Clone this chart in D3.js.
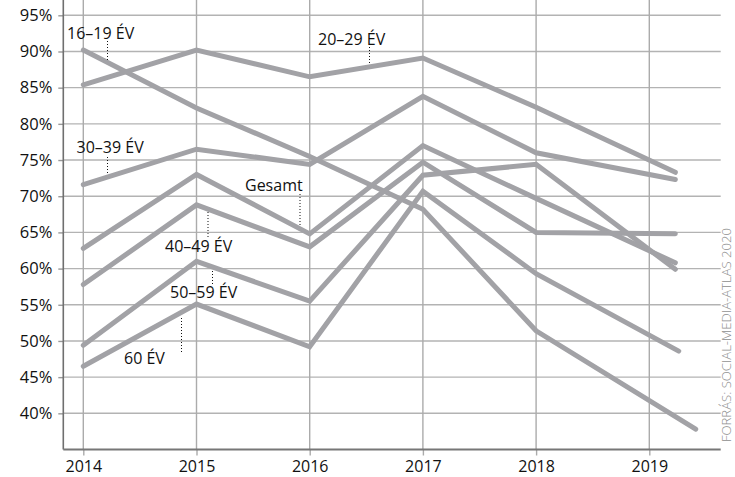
<!DOCTYPE html>
<html>
<head>
<meta charset="utf-8">
<script src="https://cdn.jsdelivr.net/npm/d3@7/dist/d3.min.js"></script>
<style>
  html, body { margin: 0; padding: 0; background: #fff; }
  svg { display: block; font-family: "Open Sans", "Noto Sans", sans-serif; }
</style>
</head>
<body>
<svg id="chart" width="735" height="477"></svg>
<script>
// Share of each age group (and overall) by survey year, in percent
const years = [2014, 2015, 2016, 2017, 2018];
const seriesNames = ["16–19 ÉV", "20–29 ÉV", "30–39 ÉV", "Gesamt", "40–49 ÉV", "50–59 ÉV", "60 ÉV"];
// Each series runs a little past 2019 on its last point
const endYears = [2019.41, 2019.23, 2019.23, 2019.23, 2019.23, 2019.23, 2019.26];
const v16_19 = [90.2, 82.2, 75.5, 68.2, 51.4, 37.8];
const v20_29 = [85.4, 90.2, 86.5, 89.1, 82.3, 73.3];
const v30_39 = [71.6, 76.5, 74.4, 83.8, 76.0, 72.3];
const vGesamt = [62.8, 73.0, 64.8, 77.0, 69.7, 60.8];
const v40_49 = [57.8, 68.8, 63.0, 74.7, 65.0, 64.8];
const v50_59 = [49.4, 61.0, 55.5, 72.9, 74.4, 59.9];
const v60 = [46.5, 55.1, 49.2, 70.7, 59.3, 48.6];
const seriesValues = [v16_19, v20_29, v30_39, vGesamt, v40_49, v50_59, v60];

const yTicks = [40, 45, 50, 55, 60, 65, 70, 75, 80, 85, 90, 95];
const xTicks = [2014, 2015, 2016, 2017, 2018, 2019];
const sourceNote = "FORRÁS: SOCIAL-MEDIA-ATLAS 2020";

const svg = d3.select("#chart");

const plotLeft = 63.3, plotRight = 720.7, plotTop = 0, plotBottom = 449.5;

const x = d3.scaleLinear().domain([2014, 2019]).range([83.3, 649.3]);
const y = d3.scaleLinear().domain([35, 95]).range([449.5, 15.3]);

// horizontal grid
svg.append("g").selectAll("line")
  .data(yTicks).join("line")
  .attr("x1", plotLeft).attr("x2", plotRight)
  .attr("y1", d => y(d)).attr("y2", d => y(d))
  .attr("stroke", "#b3b3b3").attr("stroke-width", 1.4);

// vertical grid
svg.append("g").selectAll("line")
  .data(xTicks).join("line")
  .attr("x1", d => x(d)).attr("x2", d => x(d))
  .attr("y1", plotTop).attr("y2", plotBottom)
  .attr("stroke", "#ababab").attr("stroke-width", 1.4);

// y axis
const yAxis = svg.append("g")
  .attr("transform", `translate(${plotLeft},0)`)
  .call(d3.axisLeft(y).tickValues(yTicks).tickFormat(d => d + "%").tickSize(5).tickPadding(6).tickSizeOuter(0));
yAxis.select(".domain").remove();
yAxis.selectAll(".tick line").attr("stroke", "#999").attr("stroke-width", 1.4);
yAxis.selectAll("text").attr("fill", "#111").style("font-size", "16.5px")
  .style("font-family", "\"Open Sans\", sans-serif");
svg.append("line")
  .attr("x1", plotLeft).attr("x2", plotLeft).attr("y1", plotTop).attr("y2", plotBottom)
  .attr("stroke", "#6f6f6f").attr("stroke-width", 1.6);

// x axis
const xAxis = svg.append("g")
  .attr("transform", `translate(0,${plotBottom})`)
  .call(d3.axisBottom(x).tickValues(xTicks).tickFormat(d3.format("d")).tickSize(6).tickPadding(5).tickSizeOuter(0));
xAxis.select(".domain").remove();
xAxis.selectAll(".tick line").attr("stroke", "#ababab").attr("stroke-width", 1.4);
xAxis.selectAll("text").attr("fill", "#111").style("font-size", "16px")
  .style("font-family", "\"Open Sans\", sans-serif");
svg.append("line")
  .attr("x1", plotLeft).attr("x2", plotRight).attr("y1", plotBottom).attr("y2", plotBottom)
  .attr("stroke", "#777").attr("stroke-width", 1.8);

// series lines
const series = seriesNames.map((name, i) => ({
  name,
  points: seriesValues[i].map((v, j) => ({ year: j < years.length ? years[j] : endYears[i], value: v }))
}));

const line = d3.line().x(d => x(d.year)).y(d => y(d.value));

svg.append("g").selectAll("path")
  .data(series).join("path")
  .attr("d", d => line(d.points))
  .attr("fill", "none")
  .attr("stroke", "#a2a2a6")
  .attr("stroke-width", 5)
  .attr("stroke-linecap", "round")
  .attr("stroke-linejoin", "miter");

// series labels with dotted leaders
const labels = [
  { name: "16–19 ÉV", tx: 67, ty: 38.5, lx: 107.5, ly1: 41, ly2: 60 },
  { name: "20–29 ÉV", tx: 318, ty: 45, lx: 369.5, ly1: 47, ly2: 64 },
  { name: "30–39 ÉV", tx: 76.5, ty: 152.7, lx: 107.5, ly1: 157, ly2: 175 },
  { name: "Gesamt", tx: 245, ty: 190.7, lx: 300, ly1: 194, ly2: 225 },
  { name: "40–49 ÉV", tx: 165, ty: 251.7, lx: 208, ly1: 212, ly2: 237 },
  { name: "50–59 ÉV", tx: 170, ty: 298.3, lx: 212.5, ly1: 271, ly2: 284 },
  { name: "60 ÉV", tx: 124, ty: 364.3, lx: 181.5, ly1: 318, ly2: 352 }
];

const ann = svg.append("g");
ann.selectAll("line")
  .data(labels).join("line")
  .attr("x1", d => d.lx).attr("x2", d => d.lx)
  .attr("y1", d => d.ly1).attr("y2", d => d.ly2)
  .attr("stroke", "#111").attr("stroke-width", 1)
  .attr("stroke-dasharray", "1,2");
ann.selectAll("text")
  .data(labels).join("text")
  .attr("x", d => d.tx).attr("y", d => d.ty)
  .attr("fill", "#111")
  .style("font-size", "16px")
  .text(d => d.name);

// source note, rotated along the right edge
svg.append("text")
  .attr("transform", "translate(731,442) rotate(-90)")
  .attr("fill", "#8e8e8e")
  .attr("textLength", 214)
  .attr("lengthAdjust", "spacingAndGlyphs")
  .style("font-size", "13px")
  .style("font-weight", 300)
  .text(sourceNote);
</script>
</body>
</html>
